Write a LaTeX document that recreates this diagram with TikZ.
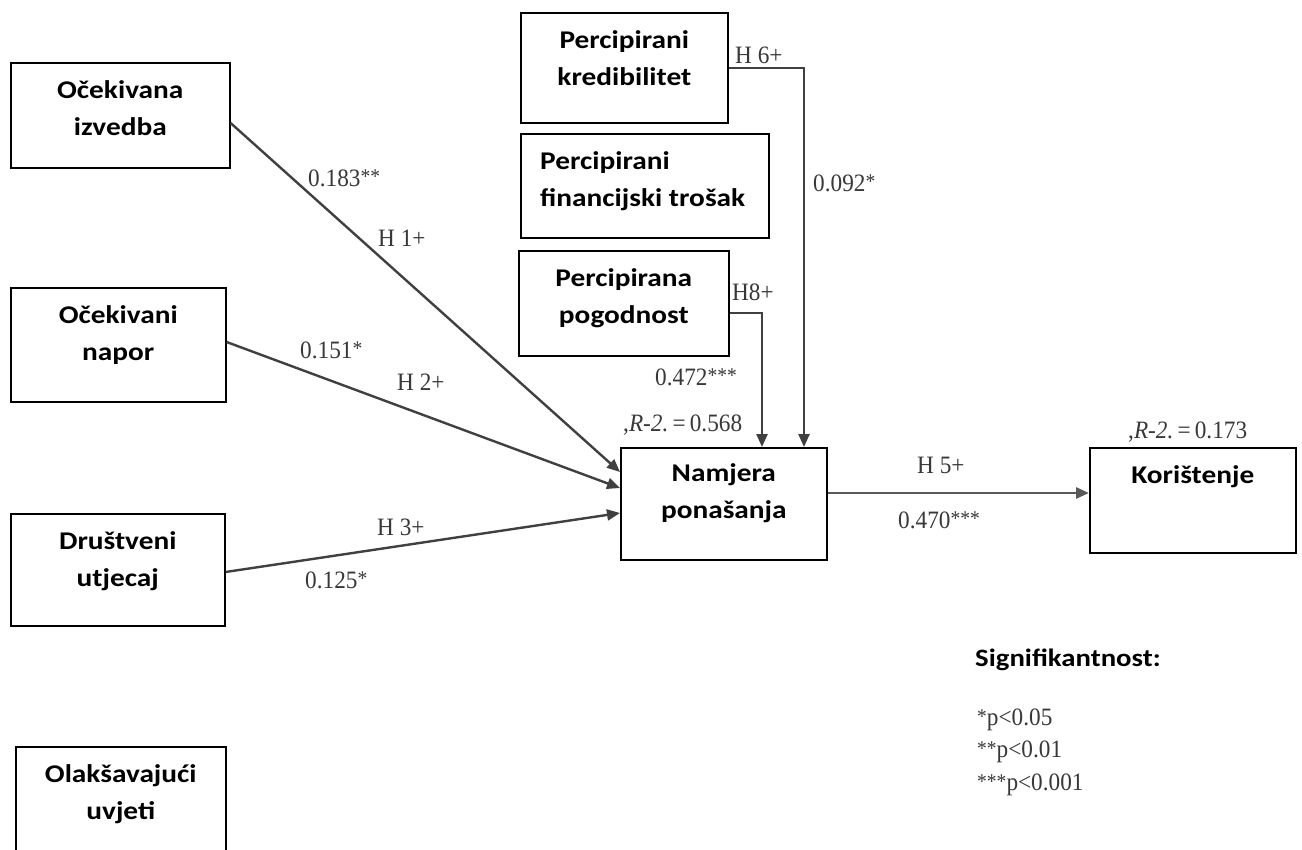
\documentclass[tikz,border=0pt]{standalone}
\usepackage{fontspec}
\setmainfont[FakeStretch=0.93]{Liberation Serif}
\newfontfamily\bxfont[FakeStretch=1.15]{Carlito}
\usetikzlibrary{arrows.meta,calc}
\newcommand\sg[1]{\raisebox{2.5pt}{\fontsize{21}{21}\selectfont #1}}
\begin{document}
\begin{tikzpicture}[x=1pt,y=-1pt,
 box/.style={draw=black,line width=1.6pt,anchor=north west,inner sep=0pt,fill=white},
 btext/.style={font=\bxfont\bfseries\fontsize{25.5}{37}\selectfont,align=center,anchor=north,inner sep=0pt},
 lbl/.style={font=\fontsize{25}{28}\selectfont,text=black!78,anchor=west,inner sep=0pt},
 conn/.style={draw=black!75,line width=2.4pt,-{Triangle[length=13pt,width=11pt]}},
]
\clip (0,0) rectangle (1302,850);
\fill[white] (0,0) rectangle (1302,850);

% boxes
\node[box,minimum width=219pt,minimum height=105pt] (izv) at (10,62) {};
\node[btext] (izvT) at ([yshift=-18pt]izv.north) {Očekivana\\izvedba};
\node[box,minimum width=215pt,minimum height=114pt] (nap) at (10,287) {};
\node[btext] (napT) at ([yshift=-18pt]nap.north) {Očekivani\\napor};
\node[box,minimum width=214pt,minimum height=112pt] (utj) at (10,513) {};
\node[btext] (utjT) at ([yshift=-18pt]utj.north) {Društveni\\utjecaj};
\node[box,minimum width=210pt,minimum height=120pt] (ola) at (15,746) {};
\node[btext] (olaT) at ([yshift=-18pt]ola.north) {Olakšavajući\\uvjeti};
\node[box,minimum width=207pt,minimum height=110pt] (kre) at (520,12) {};
\node[btext] (kreT) at ([yshift=-18pt]kre.north) {Percipirani\\kredibilitet};
\node[box,minimum width=248pt,minimum height=104pt] (fin) at (520,133) {};
\node[btext,align=left,anchor=north west] (finT) at ([xshift=20pt,yshift=-18pt]fin.north west) {Percipirani\\financijski trošak};
\node[box,minimum width=210pt,minimum height=105pt] (pog) at (518,250) {};
\node[btext] (pogT) at ([yshift=-18pt]pog.north) {Percipirana\\pogodnost};
\node[box,minimum width=206pt,minimum height=112pt] (nam) at (620,447) {};
\node[btext] (namT) at ([yshift=-16pt]nam.north) {Namjera\\ponašanja};
\node[box,minimum width=206pt,minimum height=105pt] (kor) at (1089,447) {};
\node[btext] (korT) at ([yshift=-18pt]kor.north) {Korištenje};

% connectors
\draw[conn] ([yshift=-61pt]izv.north east) -- ([yshift=-25pt]nam.north west);
\draw[conn] ([yshift=-55pt]nap.north east) -- ([yshift=-41pt]nam.north west);
\draw[conn] ([yshift=-59pt]utj.north east) -- ([yshift=-66pt]nam.north west);
\draw[conn] ([yshift=-56pt]kre.north east) -| ([xshift=184pt]nam.north west);
\draw[conn] ([yshift=-63pt]pog.north east) -| ([xshift=142pt]nam.north west);
\draw[conn,draw=black!65,line width=2.8pt] ([yshift=-46pt]nam.north east) -- ([yshift=-46pt]kor.north west);

% labels
\node[lbl] (l1) at (308,178) {0.183\sg{**}};
\node[lbl] (h1) at (378,238) {H 1+};
\node[lbl] (l2) at (300,350) {0.151\sg{*}};
\node[lbl] (h2) at (397,382) {H 2+};
\node[lbl] (h3) at (377,527) {H 3+};
\node[lbl] (l3) at (305,580) {0.125\sg{*}};
\node[lbl] (h6) at (735,55) {H 6+};
\node[lbl] (l6) at (813,183) {0.092\sg{*}};
\node[lbl] (h8) at (732,292) {H8+};
\node[lbl] (l8) at (655,377) {0.472\sg{***}};
\node[lbl] (r1) at (623,425) {,\textit{R-2.}\,=\,0.568};
\node[lbl] (h5) at (917,465) {H 5+};
\node[lbl] (l5) at (898,520) {0.470\sg{***}};
\node[lbl] (r2) at (1128,432) {,\textit{R-2.}\,=\,0.173};

% legend
\node[font=\bxfont\bfseries\fontsize{25}{30}\selectfont,anchor=west,inner sep=0pt] (sig) at (975,660) {Signifikantnost:};
\node[lbl] (p1) at (977,720) {\sg{*}p<0.05};
\node[lbl] (p2) at (977,752) {\sg{**}p<0.01};
\node[lbl] (p3) at (977,785) {\sg{***}p<0.001};
\end{tikzpicture}
\end{document}
